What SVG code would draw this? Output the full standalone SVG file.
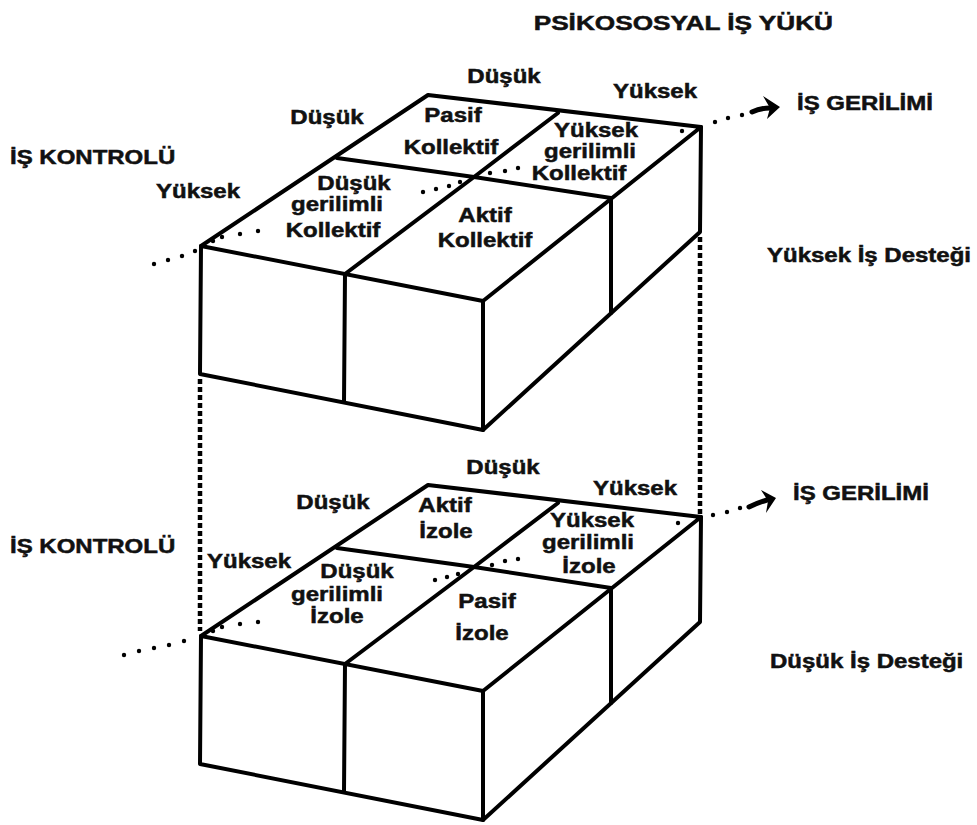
<svg xmlns="http://www.w3.org/2000/svg" width="977" height="825" viewBox="0 0 977 825">
<style>
.t{font-family:"Liberation Sans",Arial,sans-serif;font-weight:bold;font-size:20px;fill:#111;stroke:#111;stroke-width:0.5px}
.m{text-anchor:middle}
.e{text-anchor:end}
.edge{fill:none;stroke:#000;stroke-width:4;stroke-linejoin:round;stroke-linecap:round}
.dash{fill:none;stroke:#000;stroke-width:4.5;stroke-dasharray:5 3}
.dot{fill:#000}
.shaft{fill:none;stroke:#000;stroke-width:5;stroke-linecap:round}
</style>
<rect width="977" height="825" fill="#fff"/>
<defs>
<g id="boxShape">
<path class="edge" d="M428,95 L701,127 L483,301 L201,246 Z"/>
<path class="edge" d="M337,158 L474,177 L611,198"/>
<path class="edge" d="M558,113 L474,177 L345,274"/>
<path class="edge" d="M201,246 L200,374 L483,430 L483,301"/>
<path class="edge" d="M345,274 L344,402"/>
<path class="edge" d="M701,127 L700,232 L483,430"/>
<path class="edge" d="M611,198 L611,313"/>
</g>
</defs>

<g id="connectors">
<path class="dash" d="M200,379 L200,631"/>
<path class="dash" d="M700,237 L700,514"/>
<g id="axis-top">
<circle class="dot" cx="154" cy="264" r="2.2"/><circle class="dot" cx="168" cy="260" r="2.2"/><circle class="dot" cx="182" cy="256" r="2.2"/><circle class="dot" cx="195" cy="251" r="2.2"/>
<circle class="dot" cx="213" cy="241" r="2.2"/><circle class="dot" cx="222" cy="237" r="2.2"/><circle class="dot" cx="240" cy="234" r="2.2"/><circle class="dot" cx="258" cy="231" r="2.2"/>
<circle class="dot" cx="423" cy="192" r="2.2"/><circle class="dot" cx="436" cy="189" r="2.2"/><circle class="dot" cx="449" cy="186" r="2.2"/><circle class="dot" cx="460" cy="182" r="2.2"/>
<circle class="dot" cx="490" cy="173" r="2.2"/><circle class="dot" cx="505" cy="171" r="2.2"/><circle class="dot" cx="518" cy="168" r="2.2"/>
<circle class="dot" cx="682" cy="131" r="2.2"/>
<circle class="dot" cx="715" cy="122" r="2.2"/><circle class="dot" cx="728" cy="118" r="2.2"/><circle class="dot" cx="742" cy="115" r="2.2"/>
<path class="shaft" d="M752,112 Q760,108 770,108"/>
<polygon points="763,96 780,107 767,119 770,108" fill="#000"/>
</g>
<g id="axis-bottom">
<circle class="dot" cx="124" cy="655" r="2.2"/><circle class="dot" cx="139" cy="651" r="2.2"/><circle class="dot" cx="154" cy="648" r="2.2"/><circle class="dot" cx="169" cy="645" r="2.2"/><circle class="dot" cx="184" cy="641" r="2.2"/>
<circle class="dot" cx="213" cy="631" r="2.2"/><circle class="dot" cx="222" cy="627" r="2.2"/><circle class="dot" cx="240" cy="624" r="2.2"/><circle class="dot" cx="258" cy="622" r="2.2"/>
<circle class="dot" cx="435" cy="580" r="2.2"/><circle class="dot" cx="447" cy="577" r="2.2"/><circle class="dot" cx="458" cy="574" r="2.2"/>
<circle class="dot" cx="492" cy="565" r="2.2"/><circle class="dot" cx="505" cy="561" r="2.2"/><circle class="dot" cx="518" cy="559" r="2.2"/>
<circle class="dot" cx="678" cy="523" r="2.2"/>
<circle class="dot" cx="713" cy="515" r="2.2"/><circle class="dot" cx="727" cy="512" r="2.2"/><circle class="dot" cx="740" cy="508" r="2.2"/>
<path class="shaft" d="M749,507 Q757,503 767,500"/>
<polygon points="761,490 776,498 766,513 768,501" fill="#000"/>
</g>
</g>

<g id="title"><text class="t e" transform="translate(833,30) scale(1.31,1)">PSİKOSOSYAL İŞ YÜKÜ</text></g>

<g id="box-high-support">
<use href="#boxShape"/>
<text class="t m" transform="translate(504,83) scale(1.2,1)">Düşük</text>
<text class="t m" transform="translate(655,98) scale(1.2,1)">Yüksek</text>
<text class="t m" transform="translate(327,124) scale(1.2,1)">Düşük</text>
<text class="t" transform="translate(10,164) scale(1.2,1)">İŞ KONTROLÜ</text>
<text class="t m" transform="translate(198,198) scale(1.2,1)">Yüksek</text>
<text class="t" transform="translate(797,110) scale(1.2,1)">İŞ GERİLİMİ</text>
<text class="t" transform="translate(767,262) scale(1.2,1)">Yüksek İş Desteği</text>
<g id="cell-pasif-kollektif">
<text class="t m" transform="translate(453,122) scale(1.2,1)">Pasif</text>
<text class="t m" transform="translate(451,154) scale(1.2,1)">Kollektif</text>
</g>
<g id="cell-yuksek-gerilimli-kollektif">
<text class="t m" transform="translate(596,137) scale(1.2,1)">Yüksek</text>
<text class="t m" transform="translate(590,158) scale(1.2,1)">gerilimli</text>
<text class="t m" transform="translate(579,180) scale(1.2,1)">Kollektif</text>
</g>
<g id="cell-dusuk-gerilimli-kollektif">
<text class="t m" transform="translate(354,190) scale(1.2,1)">Düşük</text>
<text class="t m" transform="translate(337,211) scale(1.2,1)">gerilimli</text>
<text class="t m" transform="translate(333,237) scale(1.2,1)">Kollektif</text>
</g>
<g id="cell-aktif-kollektif">
<text class="t m" transform="translate(485,222) scale(1.2,1)">Aktif</text>
<text class="t m" transform="translate(485,247) scale(1.2,1)">Kollektif</text>
</g>
</g>

<g id="box-low-support">
<use href="#boxShape" transform="translate(0,390)"/>
<text class="t m" transform="translate(503,474) scale(1.2,1)">Düşük</text>
<text class="t m" transform="translate(635,495) scale(1.2,1)">Yüksek</text>
<text class="t m" transform="translate(333,509) scale(1.2,1)">Düşük</text>
<text class="t" transform="translate(10,553) scale(1.2,1)">İŞ KONTROLÜ</text>
<text class="t m" transform="translate(249,568) scale(1.2,1)">Yüksek</text>
<text class="t" transform="translate(793,500) scale(1.2,1)">İŞ GERİLİMİ</text>
<text class="t" transform="translate(770,668) scale(1.2,1)">Düşük İş Desteği</text>
<g id="cell-aktif-izole">
<text class="t m" transform="translate(445,512) scale(1.2,1)">Aktif</text>
<text class="t m" transform="translate(446,538) scale(1.2,1)">İzole</text>
</g>
<g id="cell-yuksek-gerilimli-izole">
<text class="t m" transform="translate(592,527) scale(1.2,1)">Yüksek</text>
<text class="t m" transform="translate(588,549) scale(1.2,1)">gerilimli</text>
<text class="t m" transform="translate(589,573) scale(1.2,1)">İzole</text>
</g>
<g id="cell-dusuk-gerilimli-izole">
<text class="t m" transform="translate(357,578) scale(1.2,1)">Düşük</text>
<text class="t m" transform="translate(337,601) scale(1.2,1)">gerilimli</text>
<text class="t m" transform="translate(337,623) scale(1.2,1)">İzole</text>
</g>
<g id="cell-pasif-izole">
<text class="t m" transform="translate(487,608) scale(1.2,1)">Pasif</text>
<text class="t m" transform="translate(482,640) scale(1.2,1)">İzole</text>
</g>
</g>
</svg>
